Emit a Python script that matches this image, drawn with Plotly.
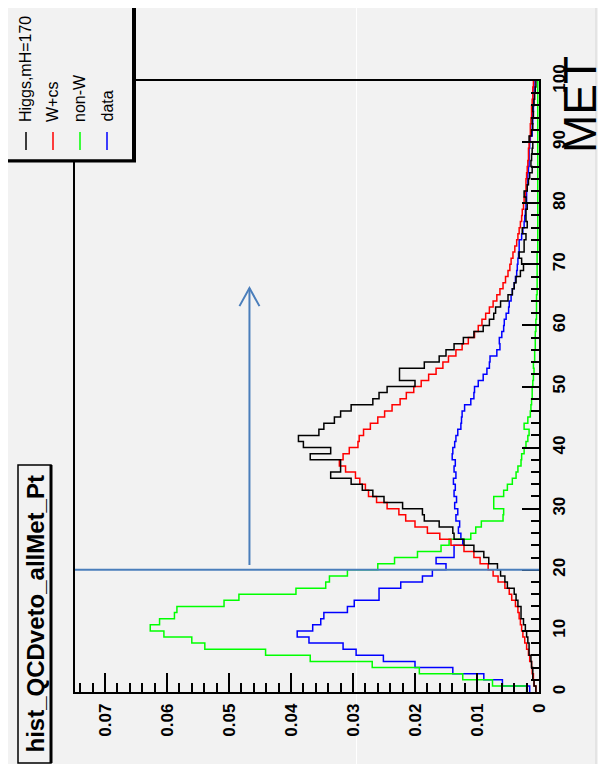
import plotly.graph_objects as go

# MET bins 0..100, width 1 (rotated ROOT plot: MET runs bottom->top, value right->left)
met_edges = list(range(0, 101))

higgs = [0.0005, 0.0008, 0.0010, 0.0010, 0.0012, 0.0013, 0.0016, 0.0016, 0.0018, 0.0020,
         0.0022, 0.0025, 0.0029, 0.0029, 0.0034, 0.0037, 0.0040, 0.0051, 0.0055, 0.0062,
         0.0067, 0.0081, 0.0089, 0.0105, 0.0121, 0.0137, 0.0139, 0.0161, 0.0185, 0.0188,
         0.0220, 0.0250, 0.0268, 0.0285, 0.0303, 0.0336, 0.0320, 0.0320, 0.0369, 0.0336,
         0.0380, 0.0388, 0.0355, 0.0347, 0.0330, 0.0320, 0.0303, 0.0268, 0.0258, 0.0245,
         0.0200, 0.0225, 0.0225, 0.0185, 0.0161, 0.0150, 0.0137, 0.0122, 0.0105, 0.0090,
         0.0080, 0.0073, 0.0070, 0.0062, 0.0050, 0.0043, 0.0040, 0.0037, 0.0030, 0.0025,
         0.0028, 0.0032, 0.0024, 0.0024, 0.0021, 0.0027, 0.0019, 0.0021, 0.0021, 0.0019,
         0.0021, 0.0024, 0.0019, 0.0017, 0.0015, 0.0011, 0.0013, 0.0012, 0.0011, 0.0010,
         0.0016, 0.0012, 0.0010, 0.0011, 0.0009, 0.0010, 0.0008, 0.0007, 0.0006, 0.0005]

wcs = [0.0005, 0.0008, 0.0009, 0.0011, 0.0012, 0.0015, 0.0017, 0.0020, 0.0023, 0.0026,
       0.0028, 0.0030, 0.0032, 0.0034, 0.0038, 0.0044, 0.0048, 0.0055, 0.0066, 0.0074,
       0.0082, 0.0095, 0.0105, 0.0121, 0.0142, 0.0160, 0.0180, 0.0200, 0.0215, 0.0226,
       0.0245, 0.0262, 0.0275, 0.0280, 0.0289, 0.0296, 0.0312, 0.0322, 0.0316, 0.0306,
       0.0292, 0.0290, 0.0283, 0.0272, 0.0260, 0.0249, 0.0237, 0.0224, 0.0214, 0.0202,
       0.0190, 0.0178, 0.0166, 0.0155, 0.0146, 0.0134, 0.0124, 0.0114, 0.0104, 0.0098,
       0.0092, 0.0086, 0.0080, 0.0074, 0.0068, 0.0063, 0.0058, 0.0054, 0.0050, 0.0047,
       0.0045, 0.0042, 0.0039, 0.0036, 0.0034, 0.0032, 0.0030, 0.0028, 0.0027, 0.0025,
       0.0024, 0.0022, 0.0021, 0.0021, 0.0020, 0.0019, 0.0018, 0.0017, 0.0017, 0.0016,
       0.0015, 0.0014, 0.0014, 0.0013, 0.0012, 0.0012, 0.0011, 0.0010, 0.0010, 0.0009]

nonw = [0.0020, 0.0075, 0.0123, 0.0193, 0.0269, 0.0369, 0.0441, 0.0539, 0.0560, 0.0605,
        0.0627, 0.0612, 0.0588, 0.0584, 0.0508, 0.0484, 0.0392, 0.0344, 0.0338, 0.0309,
        0.0260, 0.0233, 0.0196, 0.0158, 0.0145, 0.0110, 0.0102, 0.0093, 0.0058, 0.0057,
        0.0073, 0.0073, 0.0057, 0.0051, 0.0043, 0.0037, 0.0034, 0.0029, 0.0028, 0.0024,
        0.0021, 0.0018, 0.0016, 0.0024, 0.0018, 0.0014, 0.0013, 0.0012, 0.0011, 0.0011,
        0.0010, 0.0009, 0.0008, 0.0009, 0.0007, 0.0007, 0.0006, 0.0006, 0.0006, 0.0005,
        0.0005, 0.0004, 0.0004, 0.0004, 0.0004, 0.0003, 0.0003, 0.0003, 0.0003, 0.0003,
        0.0003, 0.0003, 0.0002, 0.0002, 0.0002, 0.0002, 0.0002, 0.0002, 0.0002, 0.0002,
        0.0002, 0.0002, 0.0002, 0.0002, 0.0002, 0.0002, 0.0002, 0.0002, 0.0002, 0.0002,
        0.0002, 0.0002, 0.0002, 0.0002, 0.0002, 0.0002, 0.0002, 0.0002, 0.0002, 0.0002]

data = [0.0015, 0.0059, 0.0089, 0.0139, 0.0200, 0.0251, 0.0295, 0.0316, 0.0371, 0.0390,
        0.0365, 0.0352, 0.0347, 0.0309, 0.0298, 0.0258, 0.0258, 0.0223, 0.0188, 0.0172,
        0.0150, 0.0166, 0.0137, 0.0137, 0.0123, 0.0126, 0.0130, 0.0128, 0.0134, 0.0131,
        0.0136, 0.0133, 0.0137, 0.0135, 0.0138, 0.0134, 0.0137, 0.0135, 0.0140, 0.0139,
        0.0136, 0.0134, 0.0131, 0.0126, 0.0125, 0.0124, 0.0120, 0.0110, 0.0105, 0.0104,
        0.0098, 0.0090, 0.0084, 0.0080, 0.0079, 0.0068, 0.0063, 0.0064, 0.0060, 0.0057,
        0.0056, 0.0053, 0.0049, 0.0048, 0.0045, 0.0043, 0.0040, 0.0038, 0.0036, 0.0035,
        0.0034, 0.0033, 0.0032, 0.0032, 0.0028, 0.0026, 0.0024, 0.0023, 0.0022, 0.0021,
        0.0020, 0.0020, 0.0019, 0.0018, 0.0018, 0.0017, 0.0016, 0.0016, 0.0016, 0.0015,
        0.0014, 0.0011, 0.0011, 0.0010, 0.0010, 0.0009, 0.0009, 0.0008, 0.0008, 0.0008]

series_names = ['Higgs,mH=170', 'W+cs', 'non-W', 'data']
series_colors = ['#000000', '#ff0000', '#00ff00', '#0000ff']
series_values = [higgs, wcs, nonw, data]

val_ticks = [0, 0.01, 0.02, 0.03, 0.04, 0.05, 0.06, 0.07]
met_ticks = [0, 10, 20, 30, 40, 50, 60, 70, 80, 90, 100]

cut_met = 20
arrow_val = 0.0467
arrow_met = [20.8, 66.1]

# frame in pixels
L, R, T, B = 67, 531, 73, 684
W, H = 606, 764


def px(x):
    return (x - L) / (R - L)


def py(y):
    return (B - y) / (B - T)


fig = go.Figure()
# draw order: data, non-W, W+cs, Higgs on top
for i in [3, 2, 1, 0]:
    vals = series_values[i]
    fig.add_trace(go.Scatter(
        x=vals + [vals[-1]], y=met_edges, mode='lines', line_shape='vh',
        line=dict(color=series_colors[i], width=1.5), hoverinfo='skip'))

shapes = []
# slide seam / borders
shapes.append(dict(type='line', xref='paper', yref='paper', x0=px(348.5), x1=px(348.5),
                   y0=py(0), y1=py(758), line=dict(color='#ffffff', width=1), layer='below'))
shapes.append(dict(type='line', xref='paper', yref='paper', x0=px(588), x1=px(588),
                   y0=py(0), y1=py(758), line=dict(color='#d6d6d6', width=1), layer='below'))
shapes.append(dict(type='rect', xref='paper', yref='paper', x0=px(-5), x1=px(W + 5),
                   y0=py(758), y1=py(H + 5), fillcolor='#ffffff', line=dict(width=0), layer='below'))

# cut line and arrow
blue = 'rgb(74,126,187)'
shapes.append(dict(type='line', xref='paper', yref='y', x0=0, x1=1, y0=cut_met, y1=cut_met,
                   line=dict(color=blue, width=2)))
shapes.append(dict(type='line', xref='x', yref='y', x0=arrow_val, x1=arrow_val,
                   y0=arrow_met[0], y1=arrow_met[1], line=dict(color=blue, width=2)))
dv = 10 / 6200.0
dm = 18 / 6.11
shapes.append(dict(type='path', xref='x', yref='y',
                   path='M %f,%f L %f,%f L %f,%f' % (arrow_val + dv, arrow_met[1] - dm,
                                                     arrow_val, arrow_met[1],
                                                     arrow_val - dv, arrow_met[1] - dm),
                   line=dict(color=blue, width=2)))

# legend box (top-left)
shapes.append(dict(type='rect', xref='paper', yref='paper', x0=px(-3), x1=px(125),
                   y0=py(-3), y1=py(152), fillcolor='#f2f2f2', line=dict(color='black', width=1)))
shapes.append(dict(type='line', xref='paper', yref='paper', x0=px(126), x1=px(126),
                   y0=py(-3), y1=py(154), line=dict(color='black', width=4)))
shapes.append(dict(type='line', xref='paper', yref='paper', x0=px(-3), x1=px(128),
                   y0=py(153), y1=py(153), line=dict(color='black', width=3)))

# title box (bottom-left)
shapes.append(dict(type='rect', xref='paper', yref='paper', x0=px(10), x1=px(43),
                   y0=py(457), y1=py(755), line=dict(color='black', width=1.5)))
shapes.append(dict(type='line', xref='paper', yref='paper', x0=px(43), x1=px(43),
                   y0=py(457), y1=py(755), line=dict(color='black', width=3)))

annotations = []
leg_x = [18, 45, 72, 99]
for i, name in enumerate(series_names):
    shapes.append(dict(type='line', xref='paper', yref='paper', x0=px(leg_x[i]), x1=px(leg_x[i]),
                       y0=py(124), y1=py(142), line=dict(color=series_colors[i], width=1.5)))
    annotations.append(dict(text=name, xref='paper', yref='paper', x=px(leg_x[i]), y=py(116),
                            xanchor='center', yanchor='bottom', textangle=-90, showarrow=False,
                            font=dict(family='Liberation Sans', size=16, color='black')))

annotations.append(dict(text='hist_QCDveto_allMet_Pt', xref='paper', yref='paper',
                        x=px(26.5), y=py(606), xanchor='center', yanchor='middle', textangle=-90,
                        showarrow=False,
                        font=dict(family='Liberation Sans', size=24, color='black', weight='bold')))
annotations.append(dict(text='MET', xref='paper', yref='paper', x=px(572), y=py(97),
                        xanchor='center', yanchor='middle', textangle=-90, showarrow=False,
                        font=dict(family='Liberation Sans', size=46, color='black')))

tickfont = dict(family='Liberation Sans', size=17, color='black', weight='bold')
fig.update_layout(
    width=W, height=H, autosize=False,
    margin=dict(l=L, r=W - R, t=T, b=H - B, pad=0),
    paper_bgcolor='#f2f2f2', plot_bgcolor='rgba(0,0,0,0)',
    showlegend=False,
    shapes=shapes, annotations=annotations,
    xaxis=dict(range=[(R - L) / 6200.0, 0], tickvals=val_ticks, ticks='inside', ticklen=19,
               tickwidth=1.5, tickcolor='black', showgrid=False, zeroline=False,
               showline=True, linecolor='black', linewidth=1.5, mirror=True,
               tickangle=-90, tickfont=tickfont, ticklabelstandoff=3,
               minor=dict(dtick=0.002, tick0=0, ticks='inside', ticklen=9, tickwidth=1.5,
                          tickcolor='black', showgrid=False)),
    yaxis=dict(range=[0, 100], side='right', tickvals=met_ticks, ticks='inside', ticklen=17,
               tickwidth=1.5, tickcolor='black', showgrid=False, zeroline=False,
               showline=True, linecolor='black', linewidth=1.5, mirror=True,
               tickangle=-90, tickfont=tickfont, ticklabelstandoff=4,
               minor=dict(dtick=2, tick0=0, ticks='inside', ticklen=8, tickwidth=1.5,
                          tickcolor='black', showgrid=False)),
)

fig.write_html('out.html')
